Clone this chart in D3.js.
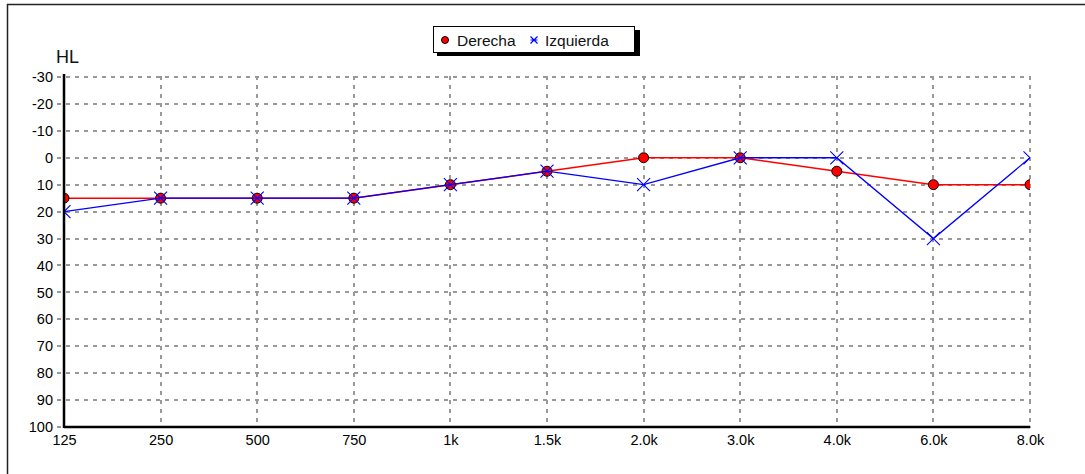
<!DOCTYPE html>
<html><head><meta charset="utf-8">
<script src="https://cdn.jsdelivr.net/npm/d3@7"></script>
<style>body{margin:0;background:#fff}svg{display:block}text{font-family:"Liberation Sans",Arial,sans-serif}</style>
</head><body><svg id="c" width="1085" height="474"></svg>
<script>
const categories = ["125","250","500","750","1k","1.5k","2.0k","3.0k","4.0k","6.0k","8.0k"];
const yTicks = [-30,-20,-10,0,10,20,30,40,50,60,70,80,90,100];
const derecha = [15,15,15,15,10,5,0,0,5,10,10];
const izquierda = [20,15,15,15,10,5,10,0,0,30,0];
const seriesNames = ["Derecha","Izquierda"];

const svg = d3.select("#c");
const L = 64, R = 1030, T = 77, B = 427;
const x = d3.scalePoint().domain(categories).range([L, R]);
const y = d3.scaleLinear().domain([-30, 100]).range([T, B]);

svg.append("defs").append("clipPath").attr("id","clip")
  .append("rect").attr("x",L).attr("y",T).attr("width",R-L).attr("height",B-T);

// outer frame
svg.append("rect").attr("x",7.5).attr("y",4.5).attr("width",1100).attr("height",500)
  .attr("fill","none").attr("stroke","#222").attr("stroke-width",1.5);

// grid
const g = svg.append("g");
g.selectAll(".hg").data(yTicks).join("line")
  .attr("x1",L-7).attr("x2",R+1).attr("y1",d=>Math.round(y(d))).attr("y2",d=>Math.round(y(d)))
  .attr("stroke","#999").attr("stroke-width",2).attr("stroke-dasharray","4,5");
g.selectAll(".vg").data(categories.slice(1)).join("line")
  .attr("x1",d=>Math.round(x(d))).attr("x2",d=>Math.round(x(d))).attr("y1",T-1).attr("y2",B)
  .attr("stroke","#999").attr("stroke-width",2).attr("stroke-dasharray","4,5");

// axes
const FS = 14.5;
const yAxis = d3.axisLeft(y).tickValues(yTicks).tickSize(0).tickPadding(11).tickFormat(d=>String(d));
const ya = svg.append("g").attr("transform",`translate(${L},0)`).call(yAxis);
ya.select(".domain").remove();
ya.selectAll("text").attr("font-size",FS).attr("fill","#000").attr("font-family","Liberation Sans, Arial, sans-serif");
const xAxis = d3.axisBottom(x).tickSize(0).tickPadding(8);
const xa = svg.append("g").attr("transform",`translate(0,${B})`).call(xAxis);
xa.select(".domain").remove();
xa.selectAll("text").attr("font-size",FS).attr("fill","#000").attr("font-family","Liberation Sans, Arial, sans-serif");

// lines + markers (clipped to plot area)
const pg = svg.append("g").attr("clip-path","url(#clip)");
const line = d3.line().x((d,i)=>x(categories[i])).y(d=>y(d));
pg.append("path").datum(derecha).attr("d",line).attr("fill","none").attr("stroke","#ff0000").attr("stroke-width",1.5);
pg.selectAll(".dm").data(derecha).join("circle")
  .attr("cx",(d,i)=>x(categories[i])).attr("cy",d=>y(d)).attr("r",5)
  .attr("fill","#ff0000").attr("stroke","#000").attr("stroke-width",1);
pg.append("path").datum(izquierda).attr("d",line).attr("fill","none").attr("stroke","#0000ff").attr("stroke-width",1.3);
const xm = (s)=>`M${-s},${-s}L${s},${s}M${-s},${s}L${s},${-s}`;
pg.selectAll(".im").data(izquierda).join("path")
  .attr("transform",(d,i)=>`translate(${x(categories[i])},${y(d)})`)
  .attr("d",xm(6.5)).attr("stroke","#0000ff").attr("stroke-width",1.1).attr("fill","none");

svg.append("line").attr("x1",L).attr("x2",L).attr("y1",T-3).attr("y2",B+1).attr("stroke","#000").attr("stroke-width",2.5);
svg.append("line").attr("x1",L).attr("x2",R).attr("y1",B).attr("y2",B).attr("stroke","#000").attr("stroke-width",2.5);

svg.append("text").attr("x",56).attr("y",63).attr("font-size",18).attr("fill","#111").text("HL");

// legend
const lg = svg.append("g");
lg.append("rect").attr("x",437).attr("y",30).attr("width",203).attr("height",26).attr("fill","#000");
lg.append("rect").attr("x",433.5).attr("y",26.5).attr("width",201).attr("height",26).attr("fill","#fff").attr("stroke","#000").attr("stroke-width",1);
lg.append("circle").attr("cx",445).attr("cy",40).attr("r",3.5).attr("fill","#ff0000").attr("stroke","#000").attr("stroke-width",1);
lg.append("text").attr("x",457).attr("y",45.5).attr("font-size",15.5).attr("fill","#111").text(seriesNames[0]);
lg.append("path").attr("transform","translate(534,40)").attr("d",xm(3.5)+"M-3.5,0L3.5,0").attr("stroke","#0000ff").attr("stroke-width",1.2);
lg.append("text").attr("x",545).attr("y",45.5).attr("font-size",15.5).attr("fill","#111").text(seriesNames[1]);
</script></body></html>
